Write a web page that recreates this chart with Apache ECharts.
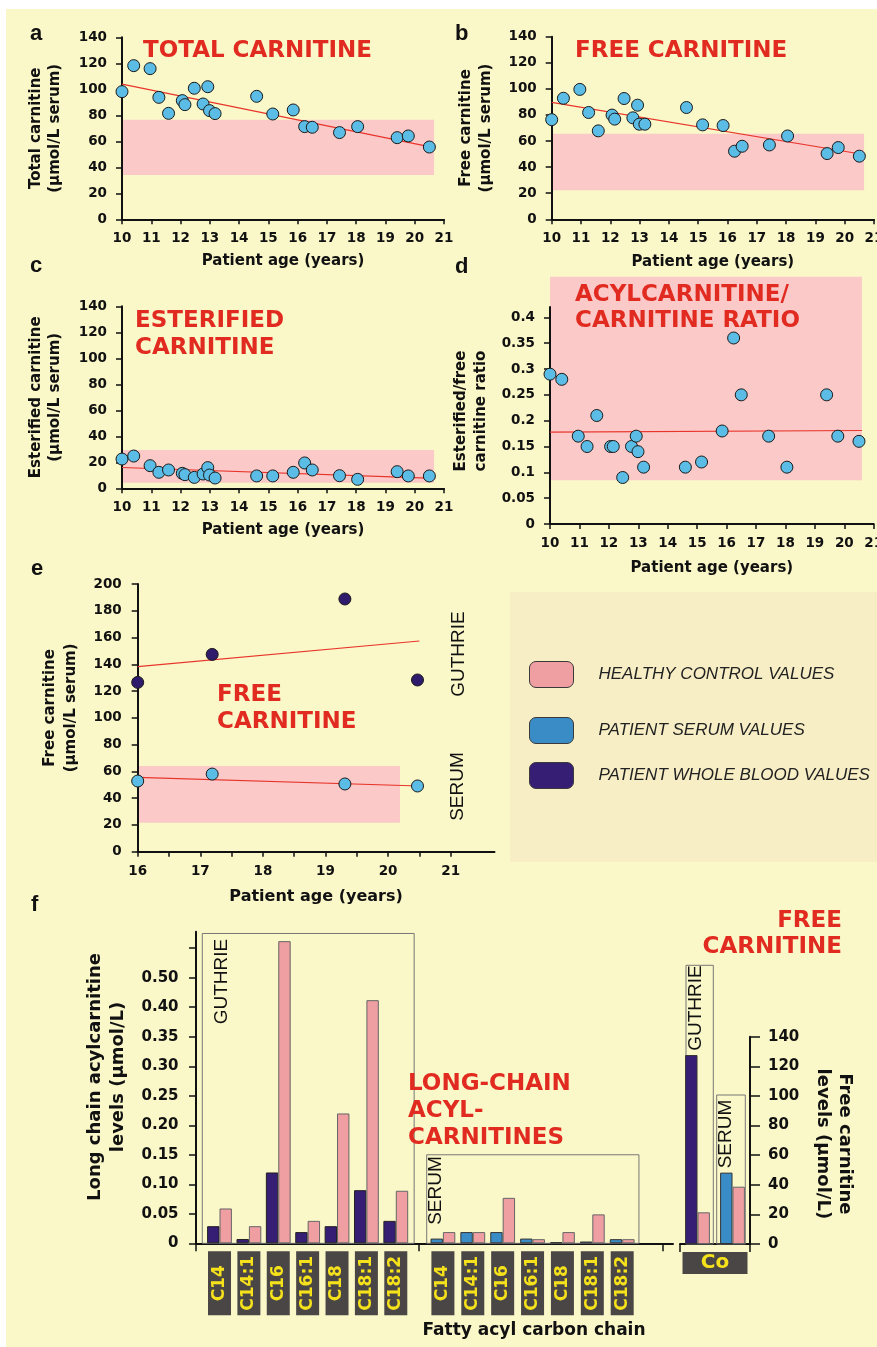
<!DOCTYPE html>
<html><head><meta charset="utf-8">
<script src="https://cdn.jsdelivr.net/npm/echarts@6/dist/echarts.min.js"></script>
<style>html,body{margin:0;padding:0;background:#fff}#c{width:877px;height:1347px}</style>
</head><body><div id="c"></div><script>
// ---------------- DATA ----------------
const ages = [10.0, 10.4, 10.96, 11.26, 11.59, 12.06, 12.15, 12.47, 12.77, 12.93, 12.99, 13.18, 14.6, 15.15, 15.85, 16.24, 16.5, 17.43, 18.05, 19.4, 19.78, 20.5];
const totalCarnitine = [98.2, 118.2, 115.9, 93.8, 81.5, 91.3, 88.2, 100.8, 88.7, 102.0, 83.6, 81.3, 94.6, 81.0, 84.1, 71.3, 70.8, 66.7, 71.3, 62.8, 64.1, 55.6];
const freeCarnitine = [76.4, 92.8, 99.6, 81.9, 67.8, 79.9, 76.8, 92.6, 77.8, 87.5, 72.9, 72.9, 85.7, 72.4, 71.9, 52.2, 56.0, 57.0, 63.9, 50.4, 55.0, 48.4];
const esterifiedCarnitine = [22.5, 24.8, 17.4, 12.3, 14.1, 11.5, 10.5, 8.4, 11.0, 15.9, 10.2, 7.9, 9.5, 9.5, 12.3, 19.5, 14.1, 9.7, 6.9, 12.8, 9.5, 9.5];
const esterFreeRatio = [0.29, 0.28, 0.17, 0.15, 0.21, 0.15, 0.15, 0.09, 0.15, 0.17, 0.14, 0.11, 0.11, 0.12, 0.18, 0.36, 0.25, 0.17, 0.11, 0.25, 0.17, 0.16];

const trendTotal = [[10, 104], [20.7, 55]];
const trendFree = [[10, 89.7], [20.7, 49.5]];
const trendEsterified = [[10, 16], [20.7, 7.7]];
const trendRatio = [[10, 0.178], [20.6, 0.181]];

const rangeTotal = [34, 76.5];
const rangeFree = [22.2, 65.6];
const rangeEsterified = [4.3, 29.5];
const rangeRatio = [0.085, 0.48];
const rangeAges = [10, 20.66];
const rangeRatioAges = [10, 20.6];

const wbAges = [16.0, 17.19, 19.31, 20.47];
const wbGuthrieFree = [126.5, 147.4, 188.8, 128.3];
const wbSerumFree = [52.8, 58.0, 50.6, 49.1];
const trendGuthrie = [[16, 138.2], [20.5, 157.4]];
const trendSerum = [[16, 55.5], [20.5, 49.1]];
const rangeE = [21.7, 64];
const rangeEAges = [16, 20.19];

const chains = ['C14', 'C14:1', 'C16', 'C16:1', 'C18', 'C18:1', 'C18:2'];
const chainPos = [1, 2, 3, 4, 5, 6, 7];
const guthriePatient = [0.029, 0.0073, 0.12, 0.019, 0.029, 0.09, 0.038];
const guthrieControl = [0.059, 0.029, 0.512, 0.038, 0.22, 0.412, 0.089];
const serumPatient = [0.008, 0.019, 0.019, 0.008, 0.002, 0.003, 0.007];
const serumControl = [0.019, 0.019, 0.077, 0.007, 0.019, 0.049, 0.007];
const c0Groups = ['GUTHRIE', 'SERUM'];
const c0Patient = [127.6, 48.2];
const c0Control = [21.4, 38.7];

const xTicksE = [16, 16.5, 17, 17.5, 18, 18.5, 19, 19.5, 20, 20.5, 21];
const xLabelsE = [16, 17, 18, 19, 20, 21];
const ratioTicks = [0, 0.05, 0.1, 0.15, 0.2, 0.25, 0.3, 0.35, 0.4];
const fTickValues = [0, 0.05, 0.1, 0.15, 0.2, 0.25, 0.3, 0.35, 0.4, 0.45, 0.5];
const fTickLabels = ['0', '0.05', '0.10', '0.15', '0.20', '0.25', '0.30', '0.35', '0.40', '0.50', ''];
const legendNames = ['HEALTHY CONTROL VALUES', 'PATIENT SERUM VALUES', 'PATIENT WHOLE BLOOD VALUES'];

// ---------------- STYLE ----------------
const FONT = 'DejaVu Sans', INK = '#111', RED = '#e12a20';
const BLUE_PT = '#5bbde6', NAVY_PT = '#2f1b6c', BAND = '#fbc9c8';
const PINK = '#ef9ea2', BLUE_BAR = '#3a8cc6', DARK_BAR = '#361e74';

function axis(o) {
  const a = {
    gridIndex: o.grid, type: o.type || 'value', show: o.show !== false,
    min: o.min, max: o.max, position: o.position,
    name: o.name || '', nameLocation: 'middle', nameGap: o.nameGap, nameMoveOverlap: false,
    nameTextStyle: {fontFamily: FONT, fontWeight: 'bold', fontSize: o.nameSize || 15, color: INK,
      lineHeight: o.nameLH || 19, padding: o.namePad || 0},
    axisLine: {show: o.line !== false, onZero: false, lineStyle: {color: INK, width: 2}},
    axisTick: {show: o.ticks !== false, length: o.tickLen || 6, lineStyle: {color: INK, width: 1.5}},
    axisLabel: {show: o.labels !== false, fontFamily: FONT, fontWeight: 'bold', fontSize: o.labelSize || 13.5,
      color: INK, margin: o.margin == null ? 8 : o.margin},
    splitLine: {show: false}, splitArea: {show: false}
  };
  if (o.interval != null) a.interval = o.interval;
  if (o.nameRotate != null) a.nameRotate = o.nameRotate;
  if (o.data) a.data = o.data;
  if (o.tickCustom) a.axisTick.customValues = o.tickCustom;
  if (o.labelCustom) a.axisLabel.customValues = o.labelCustom;
  if (o.formatter) a.axisLabel.formatter = o.formatter;
  if (o.rotate != null) a.axisLabel.rotate = o.rotate;
  if (o.rich) a.axisLabel.rich = o.rich;
  return a;
}

const chainRich = {b: {width: 64, height: 23, lineHeight: 23, align: 'center', verticalAlign: 'middle',
  backgroundColor: '#4b4646', color: '#f6e21b', fontFamily: FONT, fontWeight: 'bold', fontSize: 17}};
const chainFmt = v => '{b|' + chains[Math.round(v) - 1] + '}';

const grids = [
  {left: 122, top: 37.3, width: 322, height: 182},
  {left: 551.7, top: 36.7, width: 322.3, height: 182.6},
  {left: 122, top: 306.3, width: 322, height: 182},
  {left: 550, top: 307, width: 323.7, height: 217},
  {left: 550, top: 276.7, width: 323.7, height: 247.3},
  {left: 137.7, top: 584, width: 356.8, height: 267.7},
  {left: 196, top: 931.7, width: 223, height: 311.6},
  {left: 419, top: 931.7, width: 254, height: 311.6},
  {left: 680, top: 1036.7, width: 70, height: 207.3}
].map(g => Object.assign({containLabel: false, outerBoundsMode: 'none'}, g));

const AGE = 'Patient age (years)';
const xAxes = [
  axis({grid: 0, min: 10, max: 21, interval: 1, name: AGE, nameGap: 32.2, margin: 12, tickLen: 5}),
  axis({grid: 1, min: 10, max: 21, interval: 1, name: AGE, nameGap: 33, margin: 12, tickLen: 5}),
  axis({grid: 2, min: 10, max: 21, interval: 1, name: AGE, nameGap: 32.2, margin: 12, tickLen: 5}),
  axis({grid: 3, min: 10, max: 21, interval: 1, name: AGE, nameGap: 34.5, margin: 12, tickLen: 5}),
  axis({grid: 4, min: 10, max: 21, show: false}),
  axis({grid: 5, min: 16, max: 21.7, name: AGE, nameGap: 35.8, nameSize: 16, margin: 13, tickLen: 5,
    tickCustom: xTicksE, labelCustom: xLabelsE}),
  axis({grid: 6, min: 0.2, max: 7.79, tickLen: 8, tickCustom: [0.2, 7.79], labelCustom: chainPos,
    formatter: chainFmt, rotate: 90, rich: chainRich, margin: 8}),
  axis({grid: 7, min: 0.2, max: 8.7, tickLen: 8, tickCustom: [8.37], labelCustom: chainPos,
    formatter: chainFmt, rotate: 90, rich: chainRich, margin: 8}),
  axis({grid: 8, type: 'category', data: c0Groups, position: 'bottom', labels: false, tickLen: 8}),
  axis({grid: 8, type: 'category', data: ['Co'], position: 'bottom', line: false, ticks: false, margin: 8,
    formatter: v => '{c|' + v + '}',
    rich: {c: {width: 65, height: 22, lineHeight: 22, align: 'center', verticalAlign: 'middle',
      backgroundColor: '#4b4646', color: '#f6e21b', fontFamily: FONT, fontWeight: 'bold', fontSize: 20}}})
];
const yAxes = [
  axis({grid: 0, min: 0, max: 140, interval: 20, name: 'Total carnitine\n(µmol/L serum)', nameRotate: 90, nameGap: 57.5, margin: 15}),
  axis({grid: 1, min: 0, max: 140, interval: 20, name: 'Free carnitine\n(µmol/L serum)', nameRotate: 90, nameGap: 55.5, nameLH: 20, margin: 15}),
  axis({grid: 2, min: 0, max: 140, interval: 20, name: 'Esterified carnitine\n(µmol/L serum)', nameRotate: 90, nameGap: 57, margin: 15}),
  axis({grid: 3, min: 0, max: 0.42, name: 'Esterified/free\ncarnitine ratio', nameRotate: 90, nameGap: 59, nameLH: 20,
    namePad: [0, 0, 0, 9], margin: 15, tickCustom: ratioTicks, labelCustom: ratioTicks, formatter: v => String(v)}),
  axis({grid: 4, min: 0, max: 0.48, show: false}),
  axis({grid: 5, min: 0, max: 200, interval: 20, name: 'Free carnitine\n(µmol/L serum)', nameRotate: 90, nameGap: 56,
    nameLH: 21, namePad: [0, 0, 0, 20], margin: 16}),
  axis({grid: 6, min: 0, max: 0.528, name: 'Long chain acylcarnitine\nlevels (µmol/L)', nameRotate: 90, nameGap: 66.5,
    nameSize: 18, nameLH: 23, namePad: [0, 0, 0, 21], labelSize: 15, margin: 17.5, tickLen: 7,
    tickCustom: fTickValues, labelCustom: fTickValues, formatter: v => fTickLabels[Math.round(v / 0.05)]}),
  axis({grid: 7, min: 0, max: 0.528, show: false}),
  axis({grid: 8, min: 0, max: 140, interval: 20, position: 'right', name: 'Free carnitine\nlevels (µmol/L)',
    nameRotate: -90, nameGap: 61.5, nameSize: 18, nameLH: 22, namePad: [0, 0, 0, 7], labelSize: 15, margin: 18, tickLen: 10})
];

function band(xi, yi, xr, yr) {
  return {type: 'scatter', xAxisIndex: xi, yAxisIndex: yi, data: [], z: -1, silent: true,
    markArea: {z: -1, silent: true, itemStyle: {color: BAND, borderWidth: 0},
      data: [[{coord: [xr[0], yr[0]]}, {coord: [xr[1], yr[1]]}]]}};
}
function trend(xi, yi, d) {
  return {type: 'line', xAxisIndex: xi, yAxisIndex: yi, data: d, showSymbol: false, symbol: 'none', silent: true, z: 2,
    lineStyle: {color: '#e8352b', width: 1.2}};
}
function pts(xi, yi, xs, ys, name, color) {
  return {type: 'scatter', name: name, xAxisIndex: xi, yAxisIndex: yi, data: xs.map((x, i) => [x, ys[i]]),
    symbol: 'circle', symbolSize: 12, z: 3, silent: true,
    itemStyle: {color: color, borderColor: '#1a1a1a', borderWidth: 1, opacity: 1}};
}
function bars(xi, yi, vals, name, color, border) {
  return {type: 'bar', name: name, xAxisIndex: xi, yAxisIndex: yi, data: chainPos.map((p, i) => [p, vals[i]]),
    barWidth: 12.4, barGap: '0%', silent: true, z: 2,
    itemStyle: {color: color, borderColor: border, borderWidth: 1}};
}
function box(xi, yi, x0, x1, top) {
  return {type: 'scatter', xAxisIndex: xi, yAxisIndex: yi, data: [], silent: true,
    markArea: {z: 1, silent: true, itemStyle: {color: 'rgba(0,0,0,0)', borderColor: '#777', borderWidth: 1},
      data: [[{coord: [x0, 0]}, {coord: [x1, top]}]]}};
}

const SER = legendNames[1], WB = legendNames[2], CTRL = legendNames[0];
const series = [
  band(0, 0, rangeAges, rangeTotal), trend(0, 0, trendTotal), pts(0, 0, ages, totalCarnitine, SER, BLUE_PT),
  band(1, 1, rangeAges, rangeFree), trend(1, 1, trendFree), pts(1, 1, ages, freeCarnitine, SER, BLUE_PT),
  band(2, 2, rangeAges, rangeEsterified), trend(2, 2, trendEsterified), pts(2, 2, ages, esterifiedCarnitine, SER, BLUE_PT),
  band(4, 4, rangeRatioAges, rangeRatio), trend(3, 3, trendRatio), pts(3, 3, ages, esterFreeRatio, SER, BLUE_PT),
  band(5, 5, rangeEAges, rangeE), trend(5, 5, trendGuthrie), trend(5, 5, trendSerum),
  pts(5, 5, wbAges, wbGuthrieFree, WB, NAVY_PT), pts(5, 5, wbAges, wbSerumFree, SER, BLUE_PT),
  box(6, 6, 0.414, 7.625, 0.525), box(7, 7, 0.458, 7.56, 0.15),
  bars(6, 6, guthriePatient, WB, DARK_BAR, '#222'), bars(6, 6, guthrieControl, CTRL, PINK, '#666'),
  bars(7, 7, serumPatient, SER, BLUE_BAR, '#333'), bars(7, 7, serumControl, CTRL, PINK, '#666'),
  {type: 'bar', name: 'C0 patient', xAxisIndex: 8, yAxisIndex: 8, barWidth: 12.4, barGap: '0%', silent: true,
    data: [{value: c0Patient[0], itemStyle: {color: DARK_BAR}}, {value: c0Patient[1], itemStyle: {color: BLUE_BAR}}],
    itemStyle: {borderColor: '#333', borderWidth: 1}},
  {type: 'bar', name: 'C0 control', xAxisIndex: 8, yAxisIndex: 8, barWidth: 12.4, barGap: '0%', silent: true,
    data: c0Control, itemStyle: {color: PINK, borderColor: '#666', borderWidth: 1}}
];

const legendColors = [PINK, BLUE_BAR, DARK_BAR];
const legendTops = [661, 717, 762];
const legends = legendNames.map((n, i) => ({
  data: [{name: n, itemStyle: {color: legendColors[i]}}], left: 529, top: legendTops[i], padding: 0,
  orient: 'vertical', icon: 'roundRect', itemWidth: 44, itemHeight: 26, selectedMode: false,
  itemStyle: {borderColor: '#3a3a3a', borderWidth: 1},
  textStyle: {fontFamily: 'Liberation Sans', fontStyle: 'italic', fontSize: 17, color: '#222', padding: [0, 0, 0, 20]}
}));

function T(text, x, y, font, o) {
  o = o || {};
  const el = {type: 'text', x: x, y: y, z: 10, silent: true,
    style: {text: text, font: font, fill: o.fill || INK, align: o.align || 'left', verticalAlign: 'middle'}};
  if (o.lh) el.style.lineHeight = o.lh;
  if (o.rot) el.rotation = o.rot;
  return el;
}
const LET = 'bold 22px "Liberation Sans"', TTL = 'bold 23px "DejaVu Sans"', VL = '19px "Liberation Sans"';
const R90 = Math.PI / 2;
const graphics = [
  {type: 'rect', z: -100, silent: true, shape: {x: 6, y: 9, width: 871, height: 1338}, style: {fill: '#faf7c8'}},
  {type: 'rect', z: -90, silent: true, shape: {x: 510, y: 592, width: 367, height: 270}, style: {fill: '#f7eec6'}},
  T('a', 30, 34, LET), T('b', 455, 34, LET), T('c', 30, 266, LET), T('d', 455, 267, LET), T('e', 31, 569, LET), T('f', 31, 905, LET),
  T('TOTAL CARNITINE', 143, 51, TTL, {fill: RED}),
  T('FREE CARNITINE', 575, 51, TTL, {fill: RED}),
  T('ESTERIFIED\nCARNITINE', 135, 334.5, TTL, {fill: RED, lh: 27}),
  T('ACYLCARNITINE/\nCARNITINE RATIO', 575, 308, TTL, {fill: RED, lh: 26}),
  T('FREE\nCARNITINE', 217, 708.5, TTL, {fill: RED, lh: 27}),
  T('LONG-CHAIN\nACYL-\nCARNITINES', 408, 1110.7, TTL, {fill: RED, lh: 27}),
  T('FREE\nCARNITINE', 842, 934, TTL, {fill: RED, lh: 26, align: 'right'}),
  T('GUTHRIE', 458.3, 654, VL, {align: 'center', rot: R90}),
  T('SERUM', 458, 786.5, VL, {align: 'center', rot: R90}),
  T('GUTHRIE', 221.6, 981.5, VL, {align: 'center', rot: R90}),
  T('SERUM', 436, 1190.5, VL, {align: 'center', rot: R90}),
  T('GUTHRIE', 695.5, 1008, VL, {align: 'center', rot: R90}),
  T('SERUM', 726, 1134, VL, {align: 'center', rot: R90}),
  {type: 'rect', z: 1, silent: true, shape: {x: 686, y: 965.3, width: 27.3, height: 278.7}, style: {fill: 'none', stroke: '#777', lineWidth: 1}},
  {type: 'rect', z: 1, silent: true, shape: {x: 716.7, y: 1095, width: 28.6, height: 149}, style: {fill: 'none', stroke: '#777', lineWidth: 1}},
  T('Fatty acyl carbon chain', 534, 1331, 'bold 17px "DejaVu Sans"', {align: 'center'})
];

const chart = echarts.init(document.getElementById('c'), null, {renderer: 'canvas', width: 877, height: 1347});
chart.setOption({
  animation: false,
  backgroundColor: 'transparent',
  grid: grids, xAxis: xAxes, yAxis: yAxes, series: series, legend: legends,
  graphic: {elements: graphics}
});
</script></body></html>
